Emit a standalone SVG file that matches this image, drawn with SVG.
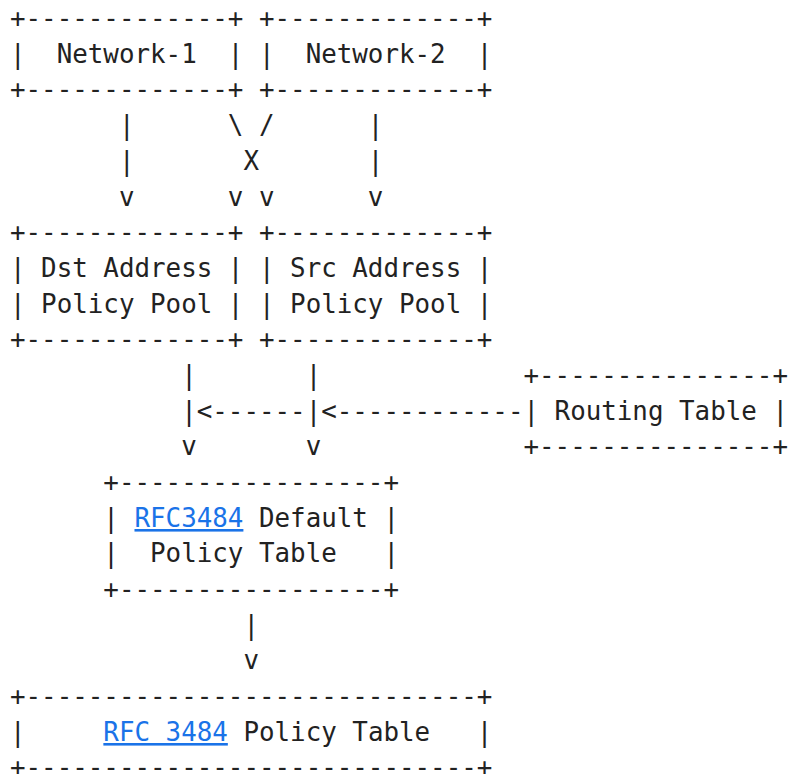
<svg xmlns="http://www.w3.org/2000/svg" width="788" height="774" viewBox="0 0 788 774">
<style>
text{font-family:"DejaVu Sans Mono","Liberation Mono",monospace;font-size:25.85px;fill:#222;white-space:pre}
.a{fill:#1a73e8;text-decoration:underline}
</style>
<rect width="788" height="774" fill="#fff"/>
<g id="art" xml:space="preserve">
<text x="10" y="27">+-------------+ +-------------+</text>
<text x="10" y="63">|  Network-1  | |  Network-2  |</text>
<text x="10" y="98">+-------------+ +-------------+</text>
<text x="10" y="134">       |      \ /      |</text>
<text x="10" y="170">       |       X       |</text>
<text x="10" y="206">       v      v v      v</text>
<text x="10" y="241">+-------------+ +-------------+</text>
<text x="10" y="277">| Dst Address | | Src Address |</text>
<text x="10" y="313">| Policy Pool | | Policy Pool |</text>
<text x="10" y="348">+-------------+ +-------------+</text>
<text x="10" y="384">           |       |             +---------------+</text>
<text x="10" y="420">           |&lt;------|&lt;------------| Routing Table |</text>
<text x="10" y="455">           v       v             +---------------+</text>
<text x="10" y="491">      +-----------------+</text>
<text x="10" y="527">      | <tspan class="a">RFC3484</tspan> Default |</text>
<text x="10" y="562">      |  Policy Table   |</text>
<text x="10" y="598">      +-----------------+</text>
<text x="10" y="634">               |</text>
<text x="10" y="669">               v</text>
<text x="10" y="705">+-----------------------------+</text>
<text x="10" y="741">|     <tspan class="a">RFC 3484</tspan> Policy Table   |</text>
<text x="10" y="776">+-----------------------------+</text>
</g>
</svg>
